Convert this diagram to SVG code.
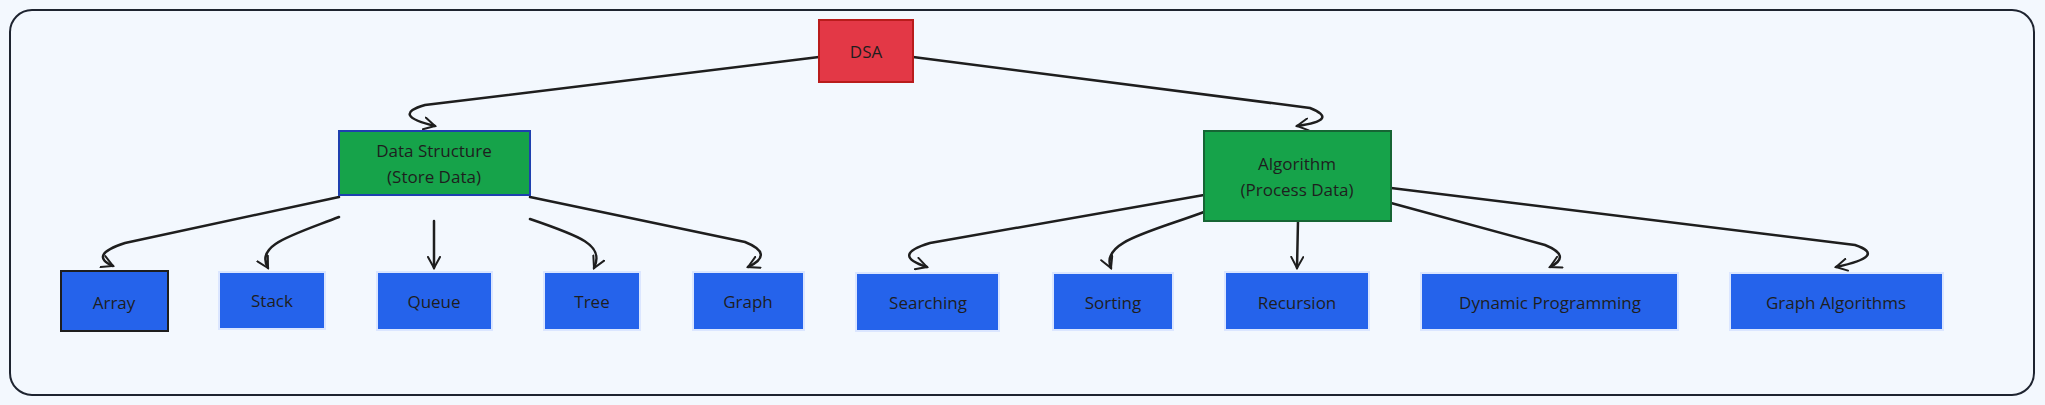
<svg xmlns="http://www.w3.org/2000/svg" width="2045" height="405" viewBox="0 0 2045 405">
<defs>
<marker id="ah" viewBox="0 0 14 14" refX="12" refY="7" markerWidth="14" markerHeight="14" markerUnits="userSpaceOnUse" orient="auto">
<path d="M1,1 L12,7 L1,13" fill="none" stroke="#1e1e1e" stroke-width="2" stroke-linecap="round"/>
</marker>
<style>
text{font-family:"Open Sans","Liberation Sans",sans-serif;font-size:17px;fill:#1e1e1e;text-anchor:middle;dominant-baseline:central}
.leaf{fill:#2563eb;stroke:#dbe6ff;stroke-width:2}
.e{fill:none;stroke:#1e1e1e;stroke-width:2.5;stroke-linecap:round;marker-end:url(#ah)}
</style>
</defs>
<rect x="0" y="0" width="2045" height="405" fill="#f3f8fe"/>
<rect x="10" y="10" width="2024" height="385" rx="22" fill="#f3f8fe" stroke="#1e2430" stroke-width="2"/>
<g id="connectors">
<path class="e" d="M819,57 L425,105 Q390,115 435,126"/>
<path class="e" d="M913,57 L1310,108 Q1340,120 1297,126"/>
<path class="e" d="M339,197 L125,243 Q88,255 113,266"/>
<path class="e" d="M339,217 C290,236 255,245 268,268"/>
<path class="e" d="M434,221 L434,268"/>
<path class="e" d="M530,219 C580,236 605,245 594,268"/>
<path class="e" d="M530,197 L745,242 Q775,254 748,267"/>
<path class="e" d="M1204,195 L930,243 Q890,255 927,267"/>
<path class="e" d="M1204,212 C1150,232 1100,242 1111,268"/>
<path class="e" d="M1298,221 L1297,268"/>
<path class="e" d="M1391,203 L1545,245 Q1572,256 1550,267"/>
<path class="e" d="M1391,188 L1855,245 Q1888,256 1836,267"/>
</g>
<g id="dsa"><rect x="819" y="20" width="94" height="62" fill="#e33846" stroke="#b91c1c" stroke-width="2"/><text x="866" y="51">DSA</text></g>
<g id="ds"><rect x="339" y="131" width="191" height="64" fill="#16a34a" stroke="#1e40af" stroke-width="2"/><text x="434" y="150">Data Structure</text><text x="434" y="176">(Store Data)</text></g>
<g id="algo"><rect x="1204" y="131" width="187" height="90" fill="#16a34a" stroke="#166534" stroke-width="2"/><text x="1297" y="163">Algorithm</text><text x="1297" y="189">(Process Data)</text></g>
<g id="array"><rect x="61" y="271" width="107" height="60" fill="#2563eb" stroke="#1e1e1e" stroke-width="2"/><text x="114" y="302">Array</text></g>
<g id="stack"><rect class="leaf" x="219" y="272" width="106" height="57"/><text x="272" y="300">Stack</text></g>
<g id="queue"><rect class="leaf" x="377" y="272" width="115" height="58"/><text x="434" y="301">Queue</text></g>
<g id="tree"><rect class="leaf" x="544" y="272" width="96" height="58"/><text x="592" y="301">Tree</text></g>
<g id="graph"><rect class="leaf" x="693" y="272" width="111" height="58"/><text x="748" y="301">Graph</text></g>
<g id="searching"><rect class="leaf" x="856" y="273" width="143" height="58"/><text x="928" y="302">Searching</text></g>
<g id="sorting"><rect class="leaf" x="1053" y="273" width="120" height="57"/><text x="1113" y="302">Sorting</text></g>
<g id="recursion"><rect class="leaf" x="1225" y="272" width="144" height="58"/><text x="1297" y="302">Recursion</text></g>
<g id="dp"><rect class="leaf" x="1421" y="273" width="257" height="57"/><text x="1550" y="302">Dynamic Programming</text></g>
<g id="ga"><rect class="leaf" x="1730" y="273" width="213" height="57"/><text x="1836" y="302">Graph Algorithms</text></g>
</svg>
